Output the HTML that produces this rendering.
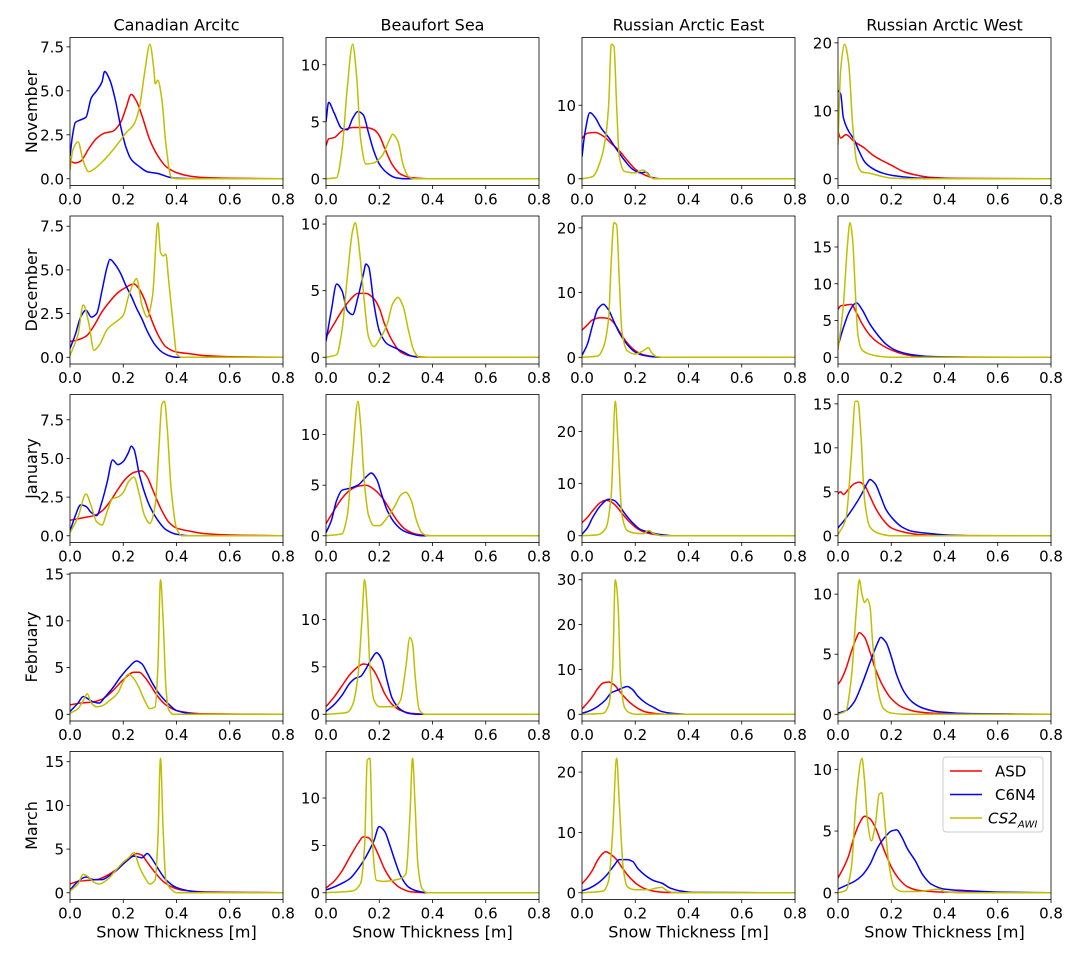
<!DOCTYPE html>
<html><head><meta charset="utf-8"><style>
html,body{margin:0;padding:0;background:#fff;}
svg{display:block;font-family:"DejaVu Sans","Liberation Sans",sans-serif;}
</style></head><body>
<svg id="chart" width="1085" height="958" viewBox="0 0 1085 958" xmlns="http://www.w3.org/2000/svg"></svg>
<script>
const REGIONS = ["Canadian Arcitc","Beaufort Sea","Russian Arctic East","Russian Arctic West"];
const MONTHS = ["November","December","January","February","March"];
const SERIES = ["ASD","C6N4","CS2"];
const XTICKS = [0,0.2,0.4,0.6,0.8];
const XTICK_LABELS = ["0.0","0.2","0.4","0.6","0.8"];
const YTICKS = [
 [[0,2.5,5,7.5],[0,5,10],[0,10],[0,10,20]],
 [[0,2.5,5,7.5],[0,5,10],[0,10,20],[0,5,10,15]],
 [[0,2.5,5,7.5],[0,5,10],[0,10,20],[0,5,10,15]],
 [[0,5,10,15],[0,5,10],[0,10,20,30],[0,5,10]],
 [[0,5,10,15],[0,5,10],[0,10,20],[0,5,10]]
];
// ---- November ----
const NOV_ASD = [
 [[0,1.0],[0.02,0.9],[0.04,1.0],[0.07,1.7],[0.1,2.3],[0.13,2.6],[0.16,2.7],[0.19,3.2],[0.21,4.0],[0.23,4.8],[0.25,4.4],[0.27,3.6],[0.3,2.2],[0.33,1.3],[0.36,0.7],[0.4,0.35],[0.45,0.15],[0.5,0.07],[0.6,0.03],[0.8,0]],
 [[0,2.9],[0.01,3.5],[0.03,3.6],[0.06,4.2],[0.1,4.5],[0.15,4.5],[0.18,4.3],[0.2,3.8],[0.22,2.7],[0.25,1.2],[0.28,0.4],[0.32,0.1],[0.4,0],[0.8,0]],
 [[0,5.5],[0.02,6.2],[0.05,6.3],[0.08,5.8],[0.11,4.8],[0.14,3.8],[0.17,2.5],[0.2,1.3],[0.23,0.6],[0.26,0.2],[0.3,0],[0.8,0]],
 [[0,7],[0.01,6],[0.03,6.5],[0.06,5.5],[0.1,4.5],[0.13,3.5],[0.16,2.8],[0.2,2.0],[0.25,1.0],[0.3,0.5],[0.35,0.2],[0.45,0.05],[0.8,0]]
];
const NOV_C6N4 = [
 [[0,1.3],[0.01,2.5],[0.02,3.2],[0.04,3.35],[0.06,3.5],[0.08,4.6],[0.1,5.0],[0.12,5.5],[0.13,6.1],[0.15,5.6],[0.17,4.5],[0.19,3.0],[0.21,1.8],[0.23,1.1],[0.26,0.7],[0.29,0.4],[0.33,0.3],[0.37,0.1],[0.4,0.03],[0.5,0],[0.8,0]],
 [[0,5.0],[0.01,6.7],[0.03,5.8],[0.06,4.4],[0.08,4.3],[0.1,5.3],[0.12,5.9],[0.14,5.6],[0.16,4.0],[0.18,2.4],[0.2,1.3],[0.23,0.5],[0.26,0.1],[0.3,0],[0.8,0]],
 [[0,3],[0.01,6],[0.03,9.0],[0.05,8.3],[0.07,7.0],[0.1,5.6],[0.13,4.0],[0.16,2.5],[0.19,1.3],[0.22,0.8],[0.24,0.9],[0.26,0.2],[0.28,0],[0.8,0]],
 [[0,13],[0.01,12.5],[0.02,9],[0.04,7],[0.06,5.8],[0.08,4.0],[0.1,2.5],[0.13,1.5],[0.17,0.8],[0.22,0.4],[0.3,0.1],[0.5,0],[0.8,0]]
];
const NOV_CS2 = [
 [[0,0.5],[0.01,1.6],[0.03,2.1],[0.05,1.0],[0.07,0.4],[0.09,0.55],[0.13,1.1],[0.17,1.8],[0.21,2.6],[0.24,3.1],[0.26,4.0],[0.28,6.0],[0.3,7.65],[0.315,6.2],[0.32,5.4],[0.33,5.6],[0.345,4.5],[0.36,2.0],[0.38,0.1],[0.4,0],[0.8,0]],
 [[0,0],[0.04,0.1],[0.06,2.5],[0.08,8.0],[0.1,11.8],[0.115,9.0],[0.13,3.5],[0.15,1.3],[0.18,1.4],[0.21,2.0],[0.24,3.5],[0.25,3.9],[0.27,3.3],[0.29,1.2],[0.31,0.2],[0.33,0],[0.8,0]],
 [[0,0],[0.04,0.3],[0.07,2.5],[0.09,6],[0.1,10],[0.11,18.3],[0.12,18],[0.13,10],[0.14,3],[0.16,1],[0.2,0.8],[0.23,1.2],[0.25,0.5],[0.27,0],[0.8,0]],
 [[0,5],[0.01,16],[0.025,19.8],[0.04,17],[0.055,8],[0.07,2.5],[0.09,1],[0.12,0.8],[0.16,0.4],[0.2,0.1],[0.3,0],[0.8,0]]
];
// ---- December ----
const DEC_ASD = [
 [[0,0.9],[0.03,1.0],[0.06,1.2],[0.09,1.8],[0.12,2.6],[0.15,3.2],[0.18,3.7],[0.21,4.0],[0.24,4.2],[0.26,3.9],[0.28,3.3],[0.3,2.4],[0.33,1.3],[0.36,0.6],[0.4,0.3],[0.45,0.2],[0.5,0.1],[0.6,0.03],[0.8,0]],
 [[0,1.5],[0.03,2.5],[0.06,3.5],[0.09,4.3],[0.12,4.8],[0.15,4.8],[0.18,4.4],[0.2,3.7],[0.22,2.5],[0.25,1.2],[0.28,0.4],[0.32,0.1],[0.4,0],[0.8,0]],
 [[0,4.2],[0.02,5.0],[0.04,5.8],[0.07,6.1],[0.1,6.0],[0.12,5.3],[0.14,4.0],[0.17,2.2],[0.2,1.0],[0.23,0.4],[0.27,0.1],[0.3,0],[0.8,0]],
 [[0,6.5],[0.01,7.0],[0.03,7.1],[0.05,7.2],[0.07,6.0],[0.09,4.6],[0.12,3.0],[0.15,2.0],[0.2,1.0],[0.25,0.4],[0.3,0.15],[0.4,0.03],[0.8,0]]
];
const DEC_C6N4 = [
 [[0,0.5],[0.02,1.3],[0.04,2.3],[0.06,2.7],[0.08,2.3],[0.1,2.5],[0.12,3.8],[0.14,5.2],[0.15,5.6],[0.17,5.3],[0.19,4.8],[0.21,4.1],[0.23,3.5],[0.25,2.8],[0.27,2.2],[0.29,1.5],[0.32,0.7],[0.35,0.25],[0.38,0.05],[0.4,0],[0.8,0]],
 [[0,1.2],[0.02,3.5],[0.04,5.5],[0.06,5.0],[0.08,3.5],[0.1,3.2],[0.12,4.5],[0.14,6.2],[0.15,7.0],[0.16,6.8],[0.18,4.0],[0.2,2.0],[0.23,1.0],[0.26,0.7],[0.29,0.4],[0.32,0.1],[0.35,0],[0.8,0]],
 [[0,0.3],[0.02,2],[0.04,5],[0.06,7.5],[0.08,8.2],[0.1,7.3],[0.12,5.5],[0.14,3.8],[0.16,2.5],[0.18,1.5],[0.2,0.8],[0.23,0.3],[0.26,0.1],[0.3,0],[0.8,0]],
 [[0,1.5],[0.02,4],[0.04,6],[0.06,7.2],[0.07,7.4],[0.09,6.5],[0.12,4.5],[0.15,3.0],[0.18,1.8],[0.22,0.9],[0.27,0.4],[0.35,0.1],[0.5,0],[0.8,0]]
];
const DEC_CS2 = [
 [[0,0.1],[0.03,1.3],[0.05,3.0],[0.07,2.0],[0.09,0.4],[0.11,0.7],[0.14,1.6],[0.17,2.0],[0.2,2.4],[0.22,3.5],[0.24,4.3],[0.25,4.5],[0.27,3.0],[0.29,2.3],[0.31,3.5],[0.33,7.7],[0.34,6.0],[0.35,5.8],[0.36,5.9],[0.37,4.5],[0.39,1.5],[0.4,0.2],[0.42,0],[0.8,0]],
 [[0,0],[0.04,0.2],[0.06,2.0],[0.08,6],[0.1,9.5],[0.11,10.1],[0.12,9],[0.14,5],[0.16,1.5],[0.18,0.8],[0.2,1.3],[0.23,2.5],[0.25,4],[0.27,4.5],[0.29,3.8],[0.31,2],[0.33,0.5],[0.35,0],[0.8,0]],
 [[0,0],[0.06,0.2],[0.08,1.5],[0.1,6],[0.11,15],[0.12,20.8],[0.13,20.5],[0.14,12],[0.15,4],[0.17,1],[0.2,0.5],[0.23,1.0],[0.25,1.5],[0.26,0.8],[0.28,0.1],[0.3,0],[0.8,0]],
 [[0,1],[0.02,7],[0.035,15],[0.045,18.3],[0.055,16],[0.065,9],[0.075,3],[0.09,1],[0.12,0.4],[0.16,0.1],[0.2,0],[0.8,0]]
];
// ---- January ----
const JAN_ASD = [
 [[0,1.0],[0.03,1.1],[0.06,1.2],[0.09,1.3],[0.12,1.6],[0.15,2.2],[0.18,3.0],[0.21,3.7],[0.24,4.1],[0.27,4.2],[0.29,3.8],[0.31,3.0],[0.34,1.8],[0.37,0.9],[0.4,0.5],[0.45,0.3],[0.5,0.15],[0.6,0.05],[0.8,0]],
 [[0,1.2],[0.03,2.5],[0.06,3.7],[0.09,4.5],[0.12,4.9],[0.15,5.0],[0.18,4.6],[0.21,3.8],[0.24,2.6],[0.27,1.4],[0.3,0.6],[0.34,0.15],[0.4,0],[0.8,0]],
 [[0,2.5],[0.02,3.5],[0.04,4.8],[0.07,6.4],[0.09,6.8],[0.11,6.5],[0.13,5.6],[0.15,4.3],[0.18,2.6],[0.21,1.3],[0.24,0.6],[0.28,0.2],[0.32,0],[0.8,0]],
 [[0,4.8],[0.01,5.0],[0.02,4.7],[0.04,5.3],[0.06,5.9],[0.08,6.1],[0.1,5.7],[0.12,4.5],[0.14,3.2],[0.17,1.8],[0.2,0.9],[0.25,0.4],[0.3,0.15],[0.4,0.03],[0.8,0]]
];
const JAN_C6N4 = [
 [[0,0.3],[0.02,1.3],[0.04,2.0],[0.06,1.9],[0.08,1.5],[0.1,1.3],[0.12,2.2],[0.14,3.5],[0.16,4.9],[0.18,4.6],[0.2,4.8],[0.22,5.4],[0.23,5.8],[0.24,5.6],[0.26,4.0],[0.28,2.8],[0.3,1.9],[0.33,1.0],[0.36,0.4],[0.4,0.1],[0.45,0],[0.8,0]],
 [[0,0.3],[0.02,1.5],[0.04,3.5],[0.06,4.5],[0.09,4.7],[0.12,5.0],[0.15,5.8],[0.17,6.2],[0.19,5.6],[0.21,4.0],[0.23,2.5],[0.26,1.2],[0.29,0.5],[0.32,0.2],[0.36,0],[0.8,0]],
 [[0,0.3],[0.02,1.5],[0.04,3.5],[0.07,5.8],[0.1,7.0],[0.12,6.8],[0.14,5.8],[0.16,4.3],[0.19,2.5],[0.22,1.2],[0.26,0.6],[0.3,0.2],[0.35,0],[0.8,0]],
 [[0,0.9],[0.03,2.0],[0.06,3.3],[0.09,4.8],[0.11,6.0],[0.12,6.4],[0.14,5.9],[0.16,4.5],[0.18,3.0],[0.21,1.8],[0.24,1.0],[0.28,0.5],[0.33,0.3],[0.4,0.1],[0.5,0],[0.8,0]]
];
const JAN_CS2 = [
 [[0,0.2],[0.03,1.2],[0.06,2.7],[0.08,1.9],[0.1,0.9],[0.12,0.7],[0.14,1.6],[0.16,2.4],[0.18,2.5],[0.2,2.8],[0.22,3.5],[0.24,3.8],[0.26,2.7],[0.28,1.3],[0.3,0.8],[0.32,2.0],[0.335,6],[0.345,8.5],[0.355,8.7],[0.365,7],[0.38,3],[0.4,0.5],[0.42,0],[0.8,0]],
 [[0,0],[0.06,0.2],[0.08,2],[0.1,8],[0.12,13.3],[0.13,11],[0.145,5],[0.16,2],[0.18,1],[0.2,1],[0.23,1.8],[0.26,3.0],[0.28,4.0],[0.3,4.3],[0.32,3.5],[0.34,1.5],[0.36,0.3],[0.38,0],[0.8,0]],
 [[0,0],[0.06,0.2],[0.09,1.5],[0.11,8],[0.125,25.8],[0.135,18],[0.15,4],[0.17,1],[0.2,0.5],[0.23,0.4],[0.25,1.0],[0.27,0.4],[0.3,0],[0.8,0]],
 [[0,0.1],[0.03,2],[0.05,9],[0.065,15.3],[0.075,15.3],[0.085,12],[0.1,4],[0.12,1],[0.15,0.3],[0.2,0],[0.8,0]]
];
// ---- February ----
const FEB_ASD = [
 [[0,1.0],[0.04,1.2],[0.08,1.3],[0.12,1.6],[0.16,2.5],[0.2,3.7],[0.24,4.5],[0.26,4.5],[0.28,4.0],[0.3,3.2],[0.33,1.9],[0.36,1.0],[0.4,0.4],[0.45,0.15],[0.5,0.05],[0.8,0]],
 [[0,0.8],[0.03,1.8],[0.06,3.0],[0.09,4.2],[0.12,5.0],[0.14,5.3],[0.16,5.2],[0.18,4.6],[0.2,3.5],[0.22,2.2],[0.25,1.0],[0.28,0.4],[0.32,0.1],[0.4,0],[0.8,0]],
 [[0,1.2],[0.02,2.5],[0.04,4],[0.06,5.8],[0.08,7.0],[0.1,7.2],[0.12,6.6],[0.14,5.2],[0.16,3.8],[0.18,2.6],[0.21,1.3],[0.24,0.5],[0.28,0.15],[0.32,0],[0.8,0]],
 [[0,2.5],[0.01,2.8],[0.03,3.8],[0.05,5.2],[0.07,6.4],[0.08,6.8],[0.1,6.4],[0.12,5.2],[0.14,3.8],[0.17,2.3],[0.2,1.3],[0.24,0.6],[0.3,0.2],[0.4,0.05],[0.8,0]]
];
const FEB_C6N4 = [
 [[0,0.3],[0.03,1.2],[0.05,1.9],[0.07,1.6],[0.09,1.3],[0.11,1.2],[0.13,1.8],[0.16,2.8],[0.19,4.0],[0.22,5.0],[0.25,5.7],[0.27,5.4],[0.29,4.4],[0.31,3.3],[0.34,2.0],[0.37,1.1],[0.4,0.4],[0.45,0.1],[0.5,0],[0.8,0]],
 [[0,0.3],[0.03,1.0],[0.06,2.0],[0.09,3.3],[0.11,3.8],[0.13,4.0],[0.15,4.8],[0.17,5.8],[0.19,6.5],[0.21,5.8],[0.23,3.5],[0.25,1.6],[0.28,0.5],[0.31,0.1],[0.35,0],[0.8,0]],
 [[0,0.2],[0.03,0.8],[0.06,1.8],[0.09,3.3],[0.11,4.8],[0.13,5.3],[0.15,5.8],[0.17,6.2],[0.19,5.5],[0.21,4.0],[0.24,2.5],[0.27,1.5],[0.3,0.6],[0.34,0.2],[0.4,0],[0.8,0]],
 [[0,0.1],[0.03,0.3],[0.06,1.0],[0.09,2.5],[0.12,4.3],[0.15,6.0],[0.16,6.4],[0.18,6.0],[0.2,4.8],[0.22,3.3],[0.25,1.8],[0.28,1.0],[0.32,0.5],[0.38,0.2],[0.5,0.05],[0.8,0]]
];
const FEB_CS2 = [
 [[0,0.1],[0.03,0.6],[0.05,1.5],[0.065,2.2],[0.08,1.2],[0.1,0.8],[0.12,0.9],[0.15,1.5],[0.18,2.3],[0.2,3.5],[0.22,4.3],[0.24,3.8],[0.26,2.8],[0.28,1.5],[0.3,0.6],[0.32,0.8],[0.33,5],[0.34,14.4],[0.35,10],[0.36,3],[0.37,0.5],[0.39,0],[0.8,0]],
 [[0,0],[0.08,0.2],[0.1,1],[0.12,4],[0.135,10],[0.145,14.2],[0.155,11],[0.165,5],[0.18,1.5],[0.2,0.8],[0.23,0.8],[0.26,0.8],[0.28,1.5],[0.3,5],[0.315,8.1],[0.325,7.5],[0.335,4],[0.35,0.5],[0.37,0],[0.8,0]],
 [[0,0],[0.08,0.2],[0.1,2],[0.115,10],[0.125,30],[0.135,25],[0.145,8],[0.16,1.5],[0.18,0.3],[0.2,0],[0.8,0]],
 [[0,0],[0.03,0.3],[0.05,3],[0.07,9],[0.08,11.2],[0.09,10],[0.1,9.3],[0.11,9.6],[0.12,9.0],[0.13,6],[0.15,2],[0.17,0.5],[0.2,0.1],[0.25,0],[0.8,0]]
];
// ---- March ----
const MAR_ASD = [
 [[0,1.0],[0.03,1.3],[0.06,1.4],[0.1,1.5],[0.14,2.0],[0.18,2.8],[0.22,3.8],[0.25,4.5],[0.27,4.3],[0.29,3.5],[0.32,2.3],[0.35,1.3],[0.38,0.7],[0.42,0.3],[0.5,0.1],[0.8,0]],
 [[0,0.5],[0.03,1.2],[0.06,2.3],[0.09,3.8],[0.12,5.2],[0.14,5.9],[0.16,5.8],[0.18,5.0],[0.2,3.8],[0.22,2.5],[0.25,1.2],[0.28,0.5],[0.32,0.1],[0.4,0],[0.8,0]],
 [[0,1.5],[0.02,2.5],[0.04,3.8],[0.06,5.5],[0.08,6.6],[0.09,6.8],[0.11,6.3],[0.13,5.5],[0.15,4.2],[0.18,2.5],[0.21,1.3],[0.24,0.6],[0.28,0.2],[0.32,0.05],[0.8,0]],
 [[0,1.2],[0.02,2],[0.04,3.0],[0.06,4.5],[0.08,5.6],[0.1,6.2],[0.12,6.0],[0.14,5.3],[0.16,4.2],[0.18,3.1],[0.2,2.1],[0.23,1.1],[0.26,0.5],[0.3,0.2],[0.35,0.1],[0.4,0.05],[0.8,0]]
];
const MAR_C6N4 = [
 [[0,0.3],[0.03,1.3],[0.06,1.8],[0.09,1.5],[0.12,1.5],[0.15,2.0],[0.18,2.7],[0.21,3.6],[0.24,4.2],[0.27,4.0],[0.29,4.5],[0.31,3.8],[0.33,2.8],[0.36,1.5],[0.4,0.6],[0.45,0.2],[0.5,0.05],[0.8,0]],
 [[0,0.3],[0.03,0.6],[0.06,1.0],[0.09,1.5],[0.12,2.5],[0.15,3.8],[0.18,5.5],[0.2,7.0],[0.22,6.5],[0.24,5.0],[0.26,3.3],[0.28,1.8],[0.31,0.6],[0.34,0.2],[0.38,0],[0.8,0]],
 [[0,0.3],[0.03,0.8],[0.06,1.6],[0.09,2.8],[0.12,4.5],[0.14,5.5],[0.17,5.5],[0.19,5.2],[0.21,4.0],[0.24,2.8],[0.27,2.0],[0.3,1.6],[0.33,0.8],[0.37,0.3],[0.42,0.05],[0.8,0]],
 [[0,0.3],[0.03,0.6],[0.06,0.9],[0.09,1.4],[0.12,2.3],[0.15,3.7],[0.18,4.6],[0.2,5.0],[0.22,5.1],[0.24,4.5],[0.26,3.6],[0.29,2.6],[0.32,1.4],[0.35,0.7],[0.4,0.3],[0.5,0.15],[0.6,0.05],[0.8,0]]
];
const MAR_CS2 = [
 [[0,0.2],[0.03,1.0],[0.05,2.1],[0.07,1.8],[0.09,1.2],[0.11,1.0],[0.14,1.5],[0.17,2.5],[0.2,3.5],[0.22,4.0],[0.24,4.6],[0.26,3.0],[0.28,1.8],[0.3,1.0],[0.32,1.5],[0.33,6],[0.34,15.4],[0.35,7],[0.36,1.5],[0.38,0.4],[0.4,0],[0.8,0]],
 [[0,0],[0.1,0.2],[0.13,1],[0.145,5],[0.155,14],[0.165,14.2],[0.175,5],[0.19,1.3],[0.22,1.2],[0.25,1.3],[0.28,1.5],[0.3,2],[0.315,8],[0.325,14.2],[0.335,9],[0.345,3],[0.36,0.5],[0.38,0],[0.8,0]],
 [[0,0],[0.08,0.3],[0.1,2],[0.115,10],[0.13,22.3],[0.14,15],[0.155,4],[0.17,1],[0.2,0.5],[0.25,0.5],[0.28,0.8],[0.3,0.9],[0.32,0.3],[0.35,0],[0.8,0]],
 [[0,0],[0.03,0.2],[0.05,2],[0.07,8],[0.09,10.9],[0.1,9],[0.11,6],[0.125,4.2],[0.14,5.5],[0.155,8],[0.165,8.1],[0.175,6],[0.19,2.5],[0.21,0.5],[0.24,0.1],[0.3,0.1],[0.38,0.3],[0.4,0.1],[0.45,0],[0.8,0]]
];
const MONTH_DATA = [
 [NOV_ASD,NOV_C6N4,NOV_CS2],[DEC_ASD,DEC_C6N4,DEC_CS2],[JAN_ASD,JAN_C6N4,JAN_CS2],
 [FEB_ASD,FEB_C6N4,FEB_CS2],[MAR_ASD,MAR_C6N4,MAR_CS2]
];
const COLORS = ["#ff0000","#0000ff","#bfbf00"];

const NS = "http://www.w3.org/2000/svg";
const svg = document.getElementById("chart");
function mk(tag, attrs, parent){
  const e = document.createElementNS(NS, tag);
  for (const k in attrs) e.setAttribute(k, attrs[k]);
  (parent||svg).appendChild(e);
  return e;
}
const COL_X = [70,326,582,838], PW = 213;
const ROW_Y0 = 37.5, ROW_PITCH = 178.5, PH = 148;

function monotonePath(pts){
  const n = pts.length;
  if (n < 2) return "";
  const dx=[], dy=[], m=[];
  for (let i=0;i<n-1;i++){ dx.push(pts[i+1][0]-pts[i][0]); dy.push(pts[i+1][1]-pts[i][1]); m.push(dy[i]/dx[i]); }
  const t=[m[0]];
  for (let i=1;i<n-1;i++){ t.push(m[i-1]*m[i]<=0?0:3*(dx[i-1]+dx[i])/((2*dx[i]+dx[i-1])/m[i-1]+(dx[i]+2*dx[i-1])/m[i])); }
  t.push(m[n-2]);
  let d = "M"+pts[0][0].toFixed(2)+","+pts[0][1].toFixed(2);
  for (let i=0;i<n-1;i++){
    const h=dx[i]/3;
    d += "C"+(pts[i][0]+h).toFixed(2)+","+(pts[i][1]+t[i]*h).toFixed(2)+" "+(pts[i+1][0]-h).toFixed(2)+","+(pts[i+1][1]-t[i+1]*h).toFixed(2)+" "+pts[i+1][0].toFixed(2)+","+pts[i+1][1].toFixed(2);
  }
  return d;
}

for (let r=0;r<5;r++){
  const top = ROW_Y0 + r*ROW_PITCH, bot = top+PH;
  for (let c=0;c<4;c++){
    const left = COL_X[c], right = left+PW;
    const g = mk("g", {});
    
    
    const sets = MONTH_DATA[r].map(s=>s[c]);
    let M = 0; sets.forEach(s=>s.forEach(p=>{ if (p[1]>M) M=p[1]; }));
    const y0 = -0.05*M, y1 = 1.05*M;
    const xs = v => left + v/0.8*PW;
    const ys = v => bot - (v-y0)/(y1-y0)*PH;
    const clip = mk("clipPath", {id:"clip"+r+"_"+c}, g);
    mk("rect", {x:left, y:top, width:PW, height:PH}, clip);
    sets.forEach((s,k)=>{
      const path = mk("path", {d: monotonePath(s.map(p=>[xs(p[0]), ys(p[1])])), fill:"none", stroke:COLORS[k], "stroke-width":1.5, "clip-path":"url(#clip"+r+"_"+c+")"}, g);
      
      
    });
    const fr = mk("rect", {x:left, y:top, width:PW, height:PH, fill:"none", stroke:"#000", "stroke-width":0.8}, g);
    
    
    XTICKS.forEach((v,i)=>{
      mk("line", {x1:xs(v), x2:xs(v), y1:bot, y2:bot+3.5, stroke:"#000", "stroke-width":0.8}, g);
      const t = mk("text", {x:xs(v), y:bot+19, "text-anchor":"middle", "font-size":15, fill:"#000"}, g);
      t.textContent = XTICK_LABELS[i];
      
      
    });
    const yt = YTICKS[r][c];
    const dec = yt.some(v=>v%1!==0);
    yt.forEach(v=>{
      mk("line", {x1:left-3.5, x2:left, y1:ys(v), y2:ys(v), stroke:"#000", "stroke-width":0.8}, g);
      const t = mk("text", {x:left-6, y:ys(v)+5.5, "text-anchor":"end", "font-size":15, fill:"#000"}, g);
      t.textContent = dec ? v.toFixed(1) : String(v);
      
      
    });
    if (r===0){
      const t = mk("text", {x:left+PW/2, y:top-7, "text-anchor":"middle", "font-size":16, fill:"#000"});
      t.textContent = REGIONS[c];
      
      
    }
    if (r===4){
      const t = mk("text", {x:left+PW/2, y:bot+38, "text-anchor":"middle", "font-size":16, fill:"#000"});
      t.textContent = "Snow Thickness [m]";
      
      
    }
    if (c===0){
      const cy = top+PH/2;
      const t = mk("text", {x:37, y:cy, "text-anchor":"middle", "font-size":16, fill:"#000", transform:"rotate(-90 37 "+cy+")"});
      t.textContent = MONTHS[r];
      
      
    }
  }
}
const lg = mk("g", {});


mk("rect", {x:943, y:757, width:100, height:75, rx:3, fill:"#fff", "fill-opacity":0.85, stroke:"#ccc", "stroke-width":1}, lg);
const LABELS = ["ASD","C6N4","CS2"];
LABELS.forEach((lab,k)=>{
  const y = 771 + k*23.5;
  const e = mk("g", {}, lg);
  
  
  mk("line", {x1:950, x2:982, y1:y, y2:y, stroke:COLORS[k], "stroke-width":1.5}, e);
  const t = mk("text", {x:995, y:y+5.5, "font-size":15, fill:"#000"}, e);
  if (k===2){
    t.setAttribute("font-style","italic");
    t.setAttribute("x", 988);
    t.textContent = "CS2";
    const s = mk("tspan", {"font-size":10, dy:4}, t);
    s.textContent = "AWI";
  } else t.textContent = lab;
});
</script>
</body></html>
